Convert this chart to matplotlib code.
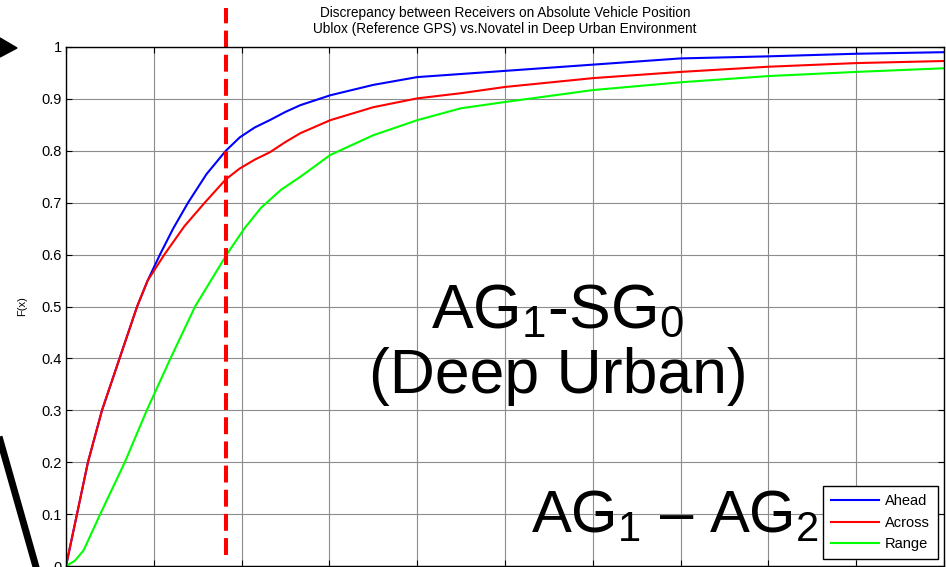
import matplotlib
matplotlib.use('Agg')
import matplotlib.pyplot as plt
from matplotlib.lines import Line2D
from matplotlib.patches import Polygon

# 经验分布函数 F(x) 的采样点
x_ahead = [0, 0.125, 0.25, 0.41, 0.61, 0.81, 0.93, 1.07, 1.22, 1.39, 1.60, 1.82, 1.98,
           2.15, 2.32, 2.5, 2.67, 2.85, 3.01, 3.5, 4.0, 4.5, 5.0, 6.0, 7.0, 8.0, 9.0, 10.0]
f_ahead = [0, 0.1, 0.2, 0.3, 0.4, 0.5, 0.55, 0.6, 0.65, 0.7, 0.755, 0.8, 0.826,
           0.845, 0.859, 0.875, 0.888, 0.898, 0.907, 0.927, 0.942, 0.948, 0.954, 0.966,
           0.978, 0.982, 0.987, 0.99]

x_across = [0, 0.125, 0.25, 0.41, 0.61, 0.81, 0.93, 1.12, 1.35, 1.58, 1.82, 1.98,
            2.15, 2.32, 2.5, 2.67, 3.01, 3.5, 4.0, 4.5, 5.0, 6.0, 7.0, 8.0, 9.0, 10.0]
f_across = [0, 0.1, 0.2, 0.3, 0.4, 0.5, 0.55, 0.6, 0.655, 0.7, 0.745, 0.766,
            0.783, 0.797, 0.817, 0.834, 0.859, 0.884, 0.901, 0.911, 0.923, 0.94,
            0.952, 0.962, 0.969, 0.973]

x_range = [0, 0.1, 0.2, 0.39, 0.67, 0.92, 1.19, 1.47, 1.83, 2.03, 2.22, 2.45, 2.67,
           3.01, 3.5, 4.0, 4.5, 5.0, 6.0, 7.0, 8.0, 9.0, 10.0]
f_range = [0, 0.01, 0.03, 0.1, 0.2, 0.3, 0.4, 0.5, 0.6, 0.65, 0.69, 0.725, 0.75,
           0.792, 0.83, 0.859, 0.882, 0.894, 0.917, 0.932, 0.944, 0.952, 0.959]

x_mark = 1.82          # 竖直虚线位置
y_ticks = [0, 0.1, 0.2, 0.3, 0.4, 0.5, 0.6, 0.7, 0.8, 0.9, 1]
x_ticks = [0, 1, 2, 3, 4, 5, 6, 7, 8, 9, 10]

plt.rcParams['font.family'] = ['Liberation Sans', 'DejaVu Sans']
plt.rcParams['mathtext.fontset'] = 'custom'
plt.rcParams['mathtext.rm'] = 'Liberation Sans'
plt.rcParams['mathtext.it'] = 'Liberation Sans:italic'

W, H = 946, 567
fig = plt.figure(figsize=(W / 100, H / 100), dpi=100)
ax = fig.add_axes([66 / W, 1 / H, 878 / W, 519 / H])

ax.plot(x_ahead, f_ahead, c=(0, 0, 1), lw=1.5, label='Ahead')
ax.plot(x_across, f_across, c=(1, 0, 0), lw=1.5, label='Across')
ax.plot(x_range, f_range, c=(0, 1, 0), lw=1.5, label='Range')

ax.set_xlim(0, 10)
ax.set_ylim(0, 1)
ax.set_xticks(x_ticks)
ax.set_xticklabels([])   # 横轴刻度文字在图幅之外
ax.set_yticks(y_ticks)
ax.set_yticklabels(['%g' % v for v in y_ticks])
ax.tick_params(direction='in', top=True, right=True, length=4, width=0.8,
               labelsize=10.5, pad=3)
ax.grid(True, color='0.55', lw=0.8)
ax.set_axisbelow(True)
for s in ax.spines.values():
    s.set_linewidth(1.0)

ax.set_ylabel('F(x)', fontsize=8, labelpad=10)
ax.set_title('Discrepancy between Receivers on Absolute Vehicle Position\n'
             'Ublox (Reference GPS) vs.Novatel in Deep Urban Environment',
             fontsize=9.8, pad=10, linespacing=1.2)

# 红色竖直虚线，超出坐标区上沿
dash = Line2D([x_mark, x_mark], [0.021, 1.075], color=(1, 0, 0), lw=2.9,
              dashes=(4.2, 1.8), transform=ax.transData, clip_on=False)
ax.add_line(dash)

# 大号说明文字
ax.text(5.6, 0.458, r'AG$_1$-SG$_0$', fontsize=45, ha='center', va='baseline')
ax.text(5.61, 0.333, '(Deep Urban)', fontsize=45, ha='center', va='baseline')
ax.text(6.94, 0.064, r'AG$_1$ – AG$_2$', fontsize=43, ha='center', va='baseline')

leg = ax.legend(loc='lower right', bbox_to_anchor=(0.993, 0.0135), borderaxespad=0,
                fontsize=10.5, fancybox=False, framealpha=1, edgecolor='k',
                handlelength=3.3, handletextpad=0.4, labelspacing=0.5, borderpad=0.55)
leg.get_frame().set_linewidth(1.0)
leg.set_zorder(10)

# 左侧的黑色箭头和斜线
tri = Polygon([(0, 1 - 38 / H), (17 / W, 1 - 48 / H), (0, 1 - 57 / H)],
              closed=True, color='k', transform=fig.transFigure)
fig.patches.append(tri)
fig.lines.append(Line2D([0, 36 / W], [1 - 440 / H, 0], color='k', lw=5,
                        transform=fig.transFigure))

plt.savefig('out.png', dpi=100)
